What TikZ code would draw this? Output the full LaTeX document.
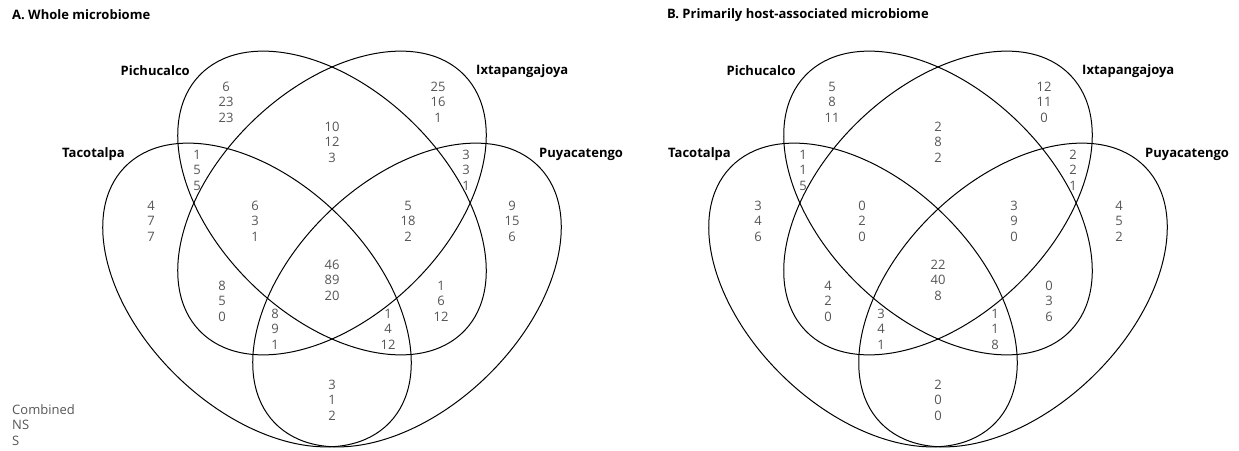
\documentclass[tikz,border=0pt]{standalone}
\usepackage{fontspec}
\setmainfont{Open Sans}
\usepackage{tikz}
\usetikzlibrary{positioning}
\definecolor{numgray}{HTML}{555555}

\begin{document}
\begin{tikzpicture}[x=1pt,y=-1pt,
    num/.style={align=center,text=numgray,inner sep=0pt,font=\fontsize{13}{15.5}\selectfont},
    site/.style={inner sep=0pt,font=\fontsize{13}{15.5}\selectfont\bfseries},
    set/.style={line width=1pt}]
  \useasboundingbox (0,0) rectangle (1239,450);

  % panel titles
  \node[site,anchor=west] (titleA) at (12,15) {A. Whole microbiome};
  \node[site,anchor=west] (titleB) at (667,15) {B. Primarily host-associated microbiome};

  % the four ellipses of each panel
  \foreach \cx in {332,938} {
    \draw[set] (\cx-75,295) ellipse [x radius=184pt,y radius=114pt,rotate=-44];
    \draw[set] (\cx,203) ellipse [x radius=184pt,y radius=114pt,rotate=-44];
    \draw[set] (\cx,203) ellipse [x radius=184pt,y radius=114pt,rotate=44];
    \draw[set] (\cx+75,295) ellipse [x radius=184pt,y radius=114pt,rotate=44];
  }

  % panel A
  \begin{scope}[shift={(332,0)}]
    \node[site,anchor=east] (aTlab) at (-207,154) {Tacotalpa};
    \node[site,anchor=east] (aPlab) at (-142,71) {Pichucalco};
    \node[site,anchor=west] (aIlab) at (144,71) {Ixtapangajoya};
    \node[site,anchor=west] (aUlab) at (207,154) {Puyacatengo};
    \node[num] (aP) at (-106,102) {6\\23\\23};
    \node[num] (aI) at (106,102) {25\\16\\1};
    \node[num] (aPI) at (0,142) {10\\12\\3};
    \node[num] (aTP) at (-135,170) {1\\5\\5};
    \node[num] (aIU) at (134,170) {3\\3\\1};
    \node[num] (aT) at (-181,221) {4\\7\\7};
    \node[num] (aTPI) at (-77,221) {6\\3\\1};
    \node[num] (aPIU) at (76,221) {5\\18\\2};
    \node[num] (aU) at (180,221) {9\\15\\6};
    \node[num] (aAll) at (0,280) {46\\89\\20};
    \node[num] (aTI) at (-110,301) {8\\5\\0};
    \node[num] (aPU) at (109,301) {1\\6\\12};
    \node[num] (aTIU) at (-57,329) {8\\9\\1};
    \node[num] (aTPU) at (56,329) {1\\4\\12};
    \node[num] (aTU) at (0,400) {3\\1\\2};
  \end{scope}

  % panel B
  \begin{scope}[shift={(938,0)}]
    \node[site,anchor=east] (bTlab) at (-207,154) {Tacotalpa};
    \node[site,anchor=east] (bPlab) at (-142,71) {Pichucalco};
    \node[site,anchor=west] (bIlab) at (144,71) {Ixtapangajoya};
    \node[site,anchor=west] (bUlab) at (207,154) {Puyacatengo};
    \node[num] (bP) at (-106,102) {5\\8\\11};
    \node[num] (bI) at (106,102) {12\\11\\0};
    \node[num] (bPI) at (0,142) {2\\8\\2};
    \node[num] (bTP) at (-135,170) {1\\1\\5};
    \node[num] (bIU) at (135,170) {2\\2\\1};
    \node[num] (bT) at (-180,221) {3\\4\\6};
    \node[num] (bTPI) at (-76,221) {0\\2\\0};
    \node[num] (bPIU) at (76,221) {3\\9\\0};
    \node[num] (bU) at (181,221) {4\\5\\2};
    \node[num] (bAll) at (0,280) {22\\40\\8};
    \node[num] (bTI) at (-110,301) {4\\2\\0};
    \node[num] (bPU) at (111,301) {0\\3\\6};
    \node[num] (bTIU) at (-57,329) {3\\4\\1};
    \node[num] (bTPU) at (57,329) {1\\1\\8};
    \node[num] (bTU) at (0,400) {2\\0\\0};
  \end{scope}

  % legend
  \node[num,align=left,anchor=west] (legend) at (12,425) {Combined\\NS\\S};
\end{tikzpicture}
\end{document}
